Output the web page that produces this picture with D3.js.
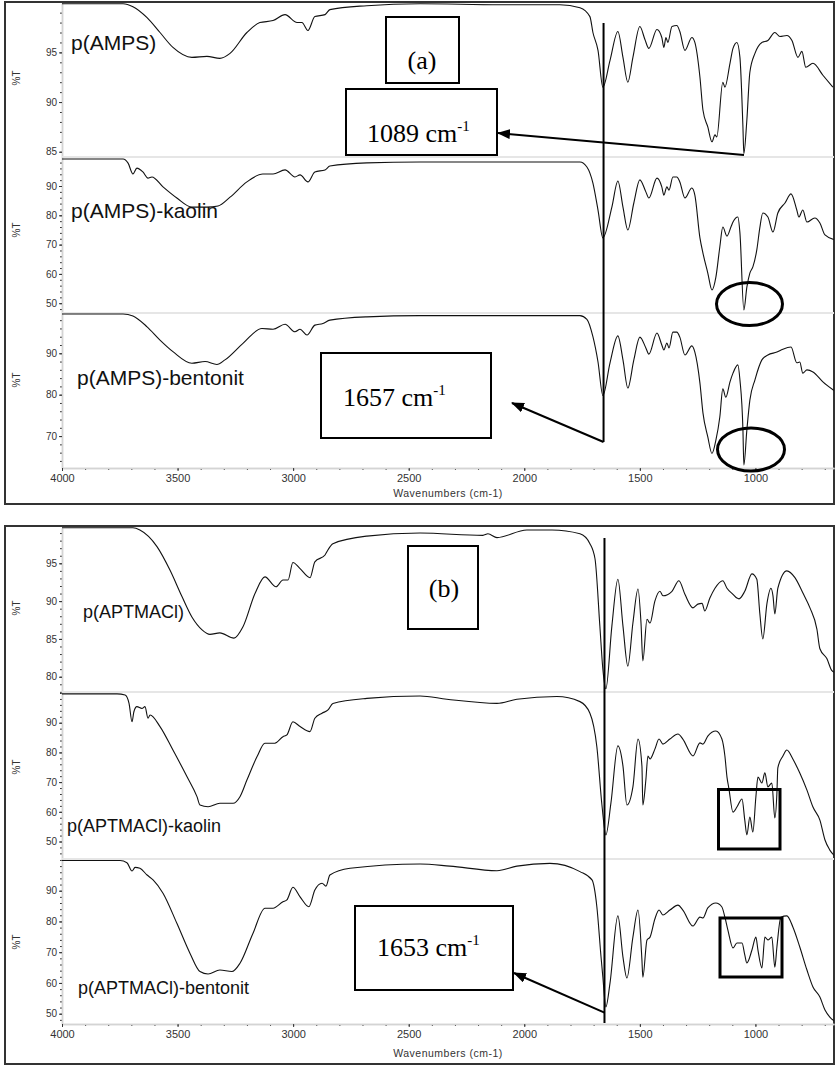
<!DOCTYPE html>
<html>
<head>
<meta charset="utf-8">
<script src="https://cdn.jsdelivr.net/npm/d3@7"></script>
<style>
  body { margin: 0; background: #fff; }
  svg { display: block; }
</style>
</head>
<body>
<svg id="chart" width="836" height="1066"></svg>
<script>
// spectra: [wavenumber cm-1, %T]
const pAMPS = [[4000,99.9],[3736,99.9],[3693,99.6],[3632,98.5],[3576,97.0],[3520,95.5],[3438,94.5],[3373,94.6],[3317,94.4],[3273,94.9],[3200,97.0],[3144,98.0],[3087,98.2],[3035,98.8],[2983,98.0],[2962,98.0],[2936,97.2],[2906,98.6],[2862,98.8],[2841,99.3],[2681,99.7],[2451,99.9],[2105,99.8],[1846,99.8],[1759,99.5],[1716,98.6],[1703,97.0],[1681,95.2],[1660,91.5],[1629,94.2],[1595,97.1],[1573,94.5],[1552,92.0],[1530,94.5],[1500,97.6],[1478,96.3],[1461,95.4],[1426,97.3],[1405,96.5],[1396,95.5],[1387,96.5],[1379,96.0],[1361,97.6],[1340,97.7],[1327,97.1],[1305,95.2],[1275,96.5],[1262,96.0],[1240,92.5],[1227,89.2],[1206,87.5],[1188,86.0],[1175,86.7],[1167,86.5],[1141,92.0],[1132,91.5],[1110,93.9],[1097,95.4],[1080,96.0],[1067,94.5],[1054,87.5],[1050,84.8],[1037,88.2],[1024,93.0],[1002,94.9],[972,96.0],[946,96.2],[916,97.0],[894,96.6],[864,96.7],[842,96.2],[816,94.5],[799,95.1],[782,93.5],[751,93.9],[708,92.7],[665,91.5]];

const pAMPSkaolin = [[4000,99.2],[3736,99.2],[3714,97.8],[3693,94.1],[3676,96.1],[3650,94.8],[3628,92.7],[3611,93.1],[3563,89.7],[3503,85.9],[3438,82.8],[3373,82.8],[3325,83.2],[3273,86.2],[3200,91.4],[3131,94.1],[3087,94.1],[3035,95.5],[2992,93.1],[2970,93.8],[2936,91.4],[2906,94.8],[2862,95.5],[2841,96.8],[2681,97.9],[2451,98.2],[2105,98.2],[1759,98.2],[1729,96.5],[1703,91.0],[1681,81.8],[1660,72.3],[1621,82.8],[1595,91.7],[1573,82.8],[1552,75.0],[1526,84.2],[1500,92.1],[1474,88.0],[1461,85.9],[1426,92.7],[1405,89.7],[1396,86.9],[1383,89.7],[1374,88.6],[1357,93.1],[1340,93.1],[1327,91.4],[1305,85.9],[1275,89.3],[1262,86.9],[1240,72.3],[1227,67.1],[1206,60.3],[1188,54.5],[1171,58.9],[1154,69.2],[1141,76.0],[1123,72.9],[1106,76.0],[1097,77.7],[1076,79.4],[1067,74.0],[1050,47.7],[1037,55.5],[1024,60.3],[1011,62.4],[994,68.2],[981,75.7],[968,80.8],[946,79.4],[924,74.3],[903,80.8],[872,84.2],[846,87.3],[821,81.8],[812,79.4],[795,81.8],[777,77.7],[743,79.1],[721,77.4],[699,73.3],[656,71.6]];

const pAMPSbentonit = [[4000,99.5],[3736,99.5],[3693,99.0],[3632,96.4],[3576,93.2],[3520,90.4],[3438,87.6],[3381,88.0],[3330,87.3],[3295,88.4],[3217,92.4],[3135,96.0],[3087,95.8],[3035,97.0],[2992,95.2],[2970,95.8],[2940,94.4],[2906,96.8],[2871,97.2],[2841,98.0],[2681,98.8],[2451,99.1],[1759,99.1],[1729,98.2],[1703,94.0],[1681,87.9],[1660,79.8],[1629,87.7],[1595,94.2],[1573,88.4],[1552,81.6],[1526,88.4],[1500,93.9],[1474,91.3],[1461,89.8],[1426,94.9],[1405,92.0],[1396,90.8],[1383,92.5],[1374,91.3],[1357,95.1],[1340,95.1],[1327,93.9],[1305,89.6],[1275,91.8],[1262,90.3],[1240,82.8],[1227,75.6],[1206,69.8],[1188,65.8],[1171,69.0],[1154,74.6],[1141,81.4],[1128,79.4],[1110,83.1],[1097,85.2],[1076,87.2],[1067,83.6],[1054,71.5],[1050,63.0],[1037,71.5],[1024,78.7],[1002,83.6],[972,88.4],[946,89.6],[907,90.3],[881,91.0],[846,91.5],[821,87.7],[808,87.9],[795,85.2],[777,86.0],[751,85.5],[708,83.1],[652,80.7]];

const pAPTMACl = [[4000,99.7],[3693,99.7],[3663,99.4],[3589,97.2],[3533,94.1],[3481,90.6],[3438,87.9],[3394,86.2],[3360,85.6],[3317,85.8],[3256,85.1],[3217,86.6],[3165,91.0],[3122,93.2],[3074,91.9],[3044,92.8],[3022,92.8],[3001,95.1],[2970,94.3],[2927,93.1],[2906,95.2],[2862,96.1],[2849,96.8],[2828,97.6],[2681,98.6],[2451,99.0],[2179,98.7],[2157,98.9],[2118,98.4],[1989,99.4],[1880,99.4],[1759,98.9],[1716,97.6],[1694,95.6],[1673,86.7],[1660,81.0],[1647,78.4],[1621,86.7],[1595,92.9],[1573,86.7],[1552,81.4],[1530,87.1],[1508,91.6],[1495,87.1],[1487,82.1],[1469,87.6],[1456,87.1],[1435,90.0],[1413,91.3],[1400,90.7],[1361,91.3],[1331,92.7],[1305,90.9],[1270,89.1],[1249,89.6],[1231,89.7],[1219,88.7],[1197,90.4],[1175,91.7],[1141,92.7],[1123,91.7],[1097,90.9],[1080,90.4],[1071,90.3],[1046,91.3],[1015,93.6],[994,92.9],[981,88.4],[968,85.0],[950,89.7],[933,91.7],[924,90.7],[916,88.3],[903,91.7],[864,94.0],[829,93.1],[795,91.1],[764,89.1],[734,86.3],[721,83.7],[691,82.4],[669,80.8],[652,80.5]];

const pAPTMAClkaolin = [[4000,99.7],[3762,99.7],[3727,99.3],[3710,96.5],[3697,90.3],[3689,93.7],[3676,95.4],[3654,94.8],[3641,95.4],[3628,91.5],[3619,92.6],[3576,88.7],[3520,80.8],[3459,71.8],[3416,65.1],[3403,62.3],[3368,61.7],[3317,62.9],[3260,62.9],[3230,65.1],[3200,70.7],[3156,78.6],[3122,83.1],[3079,83.1],[3044,85.3],[3027,85.9],[3001,90.3],[2970,88.7],[2927,87.0],[2906,91.5],[2875,93.2],[2849,94.3],[2828,96.5],[2681,98.2],[2451,99.0],[2335,97.9],[2118,96.5],[2032,97.9],[1859,98.8],[1759,97.1],[1716,93.2],[1686,81.9],[1664,62.3],[1647,52.2],[1625,63.0],[1595,82.2],[1573,75.4],[1556,62.3],[1530,68.4],[1508,84.5],[1491,75.4],[1487,62.3],[1474,70.7],[1465,78.8],[1456,77.8],[1435,81.1],[1417,84.5],[1400,82.8],[1370,84.5],[1335,86.2],[1314,84.5],[1270,78.8],[1240,83.2],[1227,82.8],[1206,85.5],[1171,87.2],[1145,84.5],[1132,78.8],[1123,71.7],[1115,68.0],[1097,59.9],[1080,61.6],[1058,64.3],[1046,57.2],[1037,52.2],[1024,58.2],[1011,53.2],[998,65.0],[989,71.7],[972,69.7],[959,73.1],[946,68.4],[929,69.7],[916,57.9],[907,66.3],[903,74.8],[881,78.8],[864,80.8],[838,77.8],[816,74.4],[808,73.1],[777,67.3],[751,61.6],[721,57.2],[699,50.5],[678,47.1],[652,44.8]];

const pAPTMAClbentonit = [[4000,99.8],[3749,99.8],[3719,99.1],[3697,96.4],[3684,97.6],[3663,97.3],[3632,95.1],[3606,93.5],[3563,89.2],[3503,79.4],[3446,69.6],[3403,63.7],[3368,62.9],[3317,64.2],[3265,63.7],[3230,66.4],[3174,76.1],[3122,84.3],[3087,84.3],[3044,86.4],[3027,87.0],[3001,91.1],[2970,88.0],[2932,84.8],[2906,90.2],[2875,92.4],[2858,91.5],[2841,95.1],[2754,97.3],[2451,98.7],[2322,98.0],[2118,96.5],[2032,98.0],[1889,98.9],[1759,96.2],[1707,93.5],[1686,84.8],[1668,68.5],[1660,61.9],[1647,52.2],[1629,60.0],[1595,81.8],[1573,68.4],[1556,61.6],[1530,74.9],[1508,83.7],[1491,67.5],[1487,61.9],[1469,74.0],[1456,74.9],[1435,80.8],[1417,83.7],[1400,82.1],[1370,83.7],[1335,85.3],[1314,83.7],[1270,78.5],[1240,81.4],[1227,81.1],[1206,84.4],[1171,86.0],[1145,84.7],[1132,81.4],[1119,77.2],[1097,71.4],[1080,73.0],[1058,73.0],[1046,69.1],[1037,66.5],[1015,70.7],[998,74.9],[989,70.7],[972,64.9],[959,74.9],[946,74.0],[929,74.9],[916,65.1],[907,71.7],[890,81.4],[864,81.8],[838,78.2],[808,71.7],[777,64.2],[751,58.7],[721,55.4],[699,51.2],[678,48.9],[652,47.3]];

const wavenumberTicks = [4000, 3500, 3000, 2500, 2000, 1500, 1000];
const ticksAmps = [85, 90, 95];
const ticksAmpsKaolin = [50, 60, 70, 80, 90];
const ticksAmpsBentonit = [70, 80, 90];
const ticksApt = [80, 85, 90, 95];
const ticksAptKaolin = [50, 60, 70, 80, 90];
const ticksAptBentonit = [50, 60, 70, 80, 90];

const sans = '"Liberation Sans", Arial, Helvetica, sans-serif';
const serif = '"Liberation Serif", "Times New Roman", serif';

const svg = d3.select('#chart');

const x = d3.scaleLinear().domain([4000, 660]).range([62, 834]);

svg.append('defs').append('clipPath').attr('id', 'plotclip')
  .append('rect').attr('x', 62).attr('y', 0).attr('width', 772).attr('height', 1066);

svg.select('defs').append('marker')
  .attr('id', 'head')
  .attr('viewBox', '0 0 13 10')
  .attr('refX', 12).attr('refY', 5)
  .attr('markerWidth', 13).attr('markerHeight', 10)
  .attr('markerUnits', 'userSpaceOnUse')
  .attr('orient', 'auto')
  .append('path').attr('d', 'M0,0L13,5L0,10Z').attr('fill', '#000');

const panels = [
  {
    top: 2, bottom: 504, axisY: 468, titleY: 497,
    plots: [
      { data: pAMPS, name: 'p(AMPS)', domain: [84.47, 99.97], range: [157, 3], ticks: ticksAmps, minor: 1, lx: 71, ly: 50, fs: 21, ty: 78 },
      { data: pAMPSkaolin, name: 'p(AMPS)-kaolin', domain: [46.66, 99.9], range: [313, 157], ticks: ticksAmpsKaolin, minor: 2, lx: 71, ly: 218, fs: 21, ty: 230 },
      { data: pAMPSbentonit, name: 'p(AMPS)-bentonit', domain: [62.29, 99.73], range: [468, 313], ticks: ticksAmpsBentonit, minor: 2, lx: 77, ly: 385, fs: 21, ty: 380 },
    ],
  },
  {
    top: 526, bottom: 1064, axisY: 1024, titleY: 1057,
    plots: [
      { data: pAPTMACl, name: 'p(APTMACl)', domain: [77.98, 99.67], range: [692, 528], ticks: ticksApt, minor: 1, lx: 83, ly: 618, fs: 18, ty: 608 },
      { data: pAPTMAClkaolin, name: 'p(APTMACl)-kaolin', domain: [44.11, 100.34], range: [859, 692], ticks: ticksAptKaolin, minor: 2, lx: 67, ly: 832, fs: 18, ty: 767 },
      { data: pAPTMAClbentonit, name: 'p(APTMACl)-bentonit', domain: [46.65, 100.31], range: [1024, 859], ticks: ticksAptBentonit, minor: 2, lx: 78, ly: 994, fs: 18, ty: 942 },
    ],
  },
];

const styleAxis = (g) => {
  g.select('.domain').attr('stroke', '#d4d4d4').attr('stroke-width', 1.5);
  g.selectAll('.tick line').attr('stroke', '#333');
  g.selectAll('.tick text').attr('fill', '#333').style('font-family', sans);
};

panels.forEach((p) => {
  // frame
  svg.append('rect')
    .attr('x', 5).attr('y', p.top)
    .attr('width', 829).attr('height', p.bottom - p.top)
    .attr('fill', 'none').attr('stroke', '#333').attr('stroke-width', 2);

  p.plots.forEach((s, i) => {
    const y = d3.scaleLinear().domain(s.domain).range(s.range);

    // light separator at top of lower stacks
    if (i > 0) {
      svg.append('line')
        .attr('x1', 62).attr('x2', 834)
        .attr('y1', s.range[1]).attr('y2', s.range[1])
        .attr('stroke', '#e6e6e6').attr('stroke-width', 2);
    }

    const minorVals = d3.range(Math.ceil(s.domain[0] / s.minor) * s.minor, s.domain[1], s.minor);
    svg.append('g')
      .attr('transform', 'translate(62,0)')
      .call(d3.axisLeft(y).tickValues(minorVals).tickSize(2).tickSizeOuter(0).tickFormat(''))
      .call(styleAxis);

    svg.append('g')
      .attr('transform', 'translate(62,0)')
      .style('font-size', '10px')
      .call(d3.axisLeft(y).tickValues(s.ticks).tickSize(3).tickPadding(2).tickSizeOuter(0).tickFormat(d3.format('d')))
      .call(styleAxis);

    svg.append('text')
      .attr('transform', `translate(20,${s.ty}) rotate(-90)`)
      .attr('text-anchor', 'middle')
      .style('font-family', sans).style('font-size', '10px')
      .attr('fill', '#333')
      .text('%T');

    const line = d3.line()
      .x((d) => x(d[0]))
      .y((d) => y(d[1]))
      .curve(d3.curveMonotoneX);

    svg.append('path')
      .datum(s.data)
      .attr('clip-path', 'url(#plotclip)')
      .attr('fill', 'none')
      .attr('stroke', '#111')
      .attr('stroke-width', 1.1)
      .attr('d', line);

    svg.append('text')
      .attr('x', s.lx).attr('y', s.ly)
      .style('font-family', sans).style('font-size', s.fs + 'px')
      .attr('fill', '#111')
      .text(s.name);
  });

  // x axis
  svg.append('g')
    .attr('transform', `translate(0,${p.axisY})`)
    .call(d3.axisBottom(x).tickValues(d3.range(4000, 660, -100)).tickSize(2).tickSizeOuter(0).tickFormat(''))
    .call(styleAxis);

  svg.append('g')
    .attr('transform', `translate(0,${p.axisY})`)
    .style('font-size', '11px')
    .call(d3.axisBottom(x).tickValues(wavenumberTicks).tickSize(3).tickPadding(3).tickSizeOuter(0).tickFormat(d3.format('d')))
    .call(styleAxis);

  svg.append('text')
    .attr('x', 448).attr('y', p.titleY)
    .attr('text-anchor', 'middle')
    .style('font-family', sans).style('font-size', '10.5px')
    .style('letter-spacing', '0.5px')
    .attr('fill', '#333')
    .text('Wavenumbers (cm-1)');
});

// annotations
const box = (x0, y0, x1, y1, w = 2) => svg.append('rect')
  .attr('x', x0).attr('y', y0).attr('width', x1 - x0).attr('height', y1 - y0)
  .attr('fill', '#fff').attr('fill-opacity', 0).attr('stroke', '#000').attr('stroke-width', w);

const label = (tx, ty, main, sup, anchor = 'start') => {
  const t = svg.append('text')
    .attr('x', tx).attr('y', ty)
    .attr('text-anchor', anchor)
    .style('font-family', serif).style('font-size', '26px')
    .attr('fill', '#000')
    .text(main);
  if (sup) {
    t.append('tspan').attr('dy', -11).style('font-size', '15px').text(sup);
  }
};

const arrow = (x1, y1, x2, y2) => svg.append('line')
  .attr('x1', x1).attr('y1', y1).attr('x2', x2).attr('y2', y2)
  .attr('stroke', '#000').attr('stroke-width', 2)
  .attr('marker-end', 'url(#head)');

const vline = (wn, y1, y2) => svg.append('line')
  .attr('x1', x(wn)).attr('x2', x(wn)).attr('y1', y1).attr('y2', y2)
  .attr('stroke', '#000').attr('stroke-width', 2);

// panel (a)
box(386, 17, 459, 83);
label(422, 69, '(a)', null, 'middle');
box(346, 89, 497, 155);
label(367, 142, '1089 cm', '-1');
arrow(744, 155, 498, 133);
vline(1657, 23, 442);
arrow(x(1657), 442, 512, 403);
box(321, 353, 491, 438);
label(343, 406, '1657 cm', '-1');

svg.append('ellipse').attr('cx', 749.5).attr('cy', 304).attr('rx', 33).attr('ry', 21.5)
  .attr('fill', 'none').attr('stroke', '#000').attr('stroke-width', 3);
svg.append('ellipse').attr('cx', 751).attr('cy', 449.5).attr('rx', 33.5).attr('ry', 21.5)
  .attr('fill', 'none').attr('stroke', '#000').attr('stroke-width', 3);

// panel (b)
box(408, 546, 478, 629);
label(444, 597, '(b)', null, 'middle');
vline(1653, 538, 1023);
arrow(x(1653), 1012.7, 514, 973);
box(355, 906, 513, 990);
label(377, 956, '1653 cm', '-1');
box(718.5, 789.5, 780, 849, 3);
box(720, 918, 782, 977, 3);
</script>
</body>
</html>
